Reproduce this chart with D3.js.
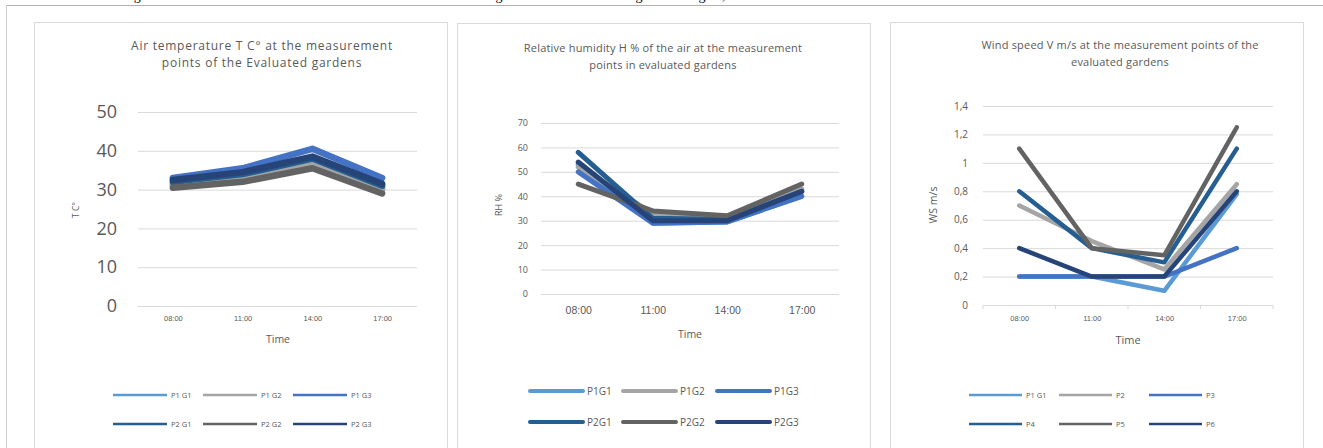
<!DOCTYPE html>
<html><head><meta charset="utf-8">
<script src="https://cdn.jsdelivr.net/npm/d3@7"></script>
<style>
html,body{margin:0;padding:0;background:#fff;}
svg{display:block;font-family:"Open Sans",Lato,sans-serif;}
</style></head>
<body>
<svg id="c" width="1323" height="448"></svg>
<script>
// ---------- DATA ----------
const times = ["08:00", "11:00", "14:00", "17:00"];

const tempSeries = ["P1 G1", "P1 G2", "P1 G3", "P2 G1", "P2 G2", "P2 G3"];
const tempP1G1 = [31.5, 33.0, 37.5, 30.5];
const tempP1G2 = [31.0, 32.5, 36.5, 30.0];
const tempP1G3 = [33.0, 35.5, 40.5, 33.0];
const tempP2G1 = [32.0, 34.0, 38.0, 31.0];
const tempP2G2 = [30.5, 32.0, 35.5, 29.0];
const tempP2G3 = [32.5, 34.5, 38.5, 31.5];
const tempTicks = [0, 10, 20, 30, 40, 50];

const rhSeries = ["P1G1", "P1G2", "P1G3", "P2G1", "P2G2", "P2G3"];
const rhP1G1 = [53, 29, 29.5, 40];
const rhP1G2 = [52, 33, 31, 43];
const rhP1G3 = [50, 29, 29.5, 40];
const rhP2G1 = [58, 31, 30.5, 42];
const rhP2G2 = [45, 34, 32, 45];
const rhP2G3 = [54, 30, 30, 42];
const rhTicks = [0, 10, 20, 30, 40, 50, 60, 70];

const wsSeries = ["P1 G1", "P2", "P3", "P4", "P5", "P6"];
const wsP1 = [0.2, 0.2, 0.1, 0.78];
const wsP2 = [0.7, 0.45, 0.25, 0.85];
const wsP3 = [0.2, 0.2, 0.2, 0.4];
const wsP4 = [0.8, 0.4, 0.3, 1.1];
const wsP5 = [1.1, 0.4, 0.35, 1.25];
const wsP6 = [0.4, 0.2, 0.2, 0.8];
const wsTicks = [0, 0.2, 0.4, 0.6, 0.8, 1, 1.2, 1.4];

const seriesColors = ["#5B9BD5", "#A5A5A5", "#4472C4", "#255E91", "#636363", "#264478"];

// ---------- DRAW ----------
const svg = d3.select("#c");
const TXT = "#595959";

// caption (cut off at top in the source) and outer frame
svg.append("text").attr("x", 122).attr("y", 0).attr("font-size", 14).attr("fill", "#000")
  .attr("font-family", "Liberation Serif, serif")
  .text("Figure 3. Microclimatic evaluation of the Evaluated Gardens through the Great Climatic Regime of August, 2019");
svg.append("line").attr("x1", 6).attr("x2", 1323).attr("y1", 5.5).attr("y2", 5.5).attr("stroke", "#b0b0b0");
svg.append("line").attr("x1", 6.5).attr("x2", 6.5).attr("y1", 5).attr("y2", 448).attr("stroke", "#d0d0d0");

const panels = [
  {
    box: [34, 22, 447], title: ["Air temperature T C\u00B0 at the measurement", "points of the Evaluated gardens"],
    titleX: 262, titleY: [50, 67], titleSize: 12, titleLS: 0.75,
    x: [138, 417], y: [306, 112], domain: [0, 50], ticks: tempTicks, fmt: d => String(d),
    yLabSize: 18, yLabX: 117, xLabSize: 7.5, xLabY: 321, xTicks: false,
    timeY: 343, timeX: 278, timeSize: 10.5,
    yTitle: "T C\u00B0", yTitleX: 77, yTitleY: 210, yTitleSize: 8.5,
    series: tempSeries, values: [tempP1G1, tempP1G2, tempP1G3, tempP2G1, tempP2G2, tempP2G3],
    lw: 6.5, legX: [113, 203, 293], legLen: 54, legY: [395, 424], legSize: 7.5, legW: 2.5, legCap: "butt"
  },
  {
    box: [457, 23, 870], title: ["Relative humidity H % of the air at the measurement", "points in evaluated gardens"],
    titleX: 663, titleY: [52, 69], titleSize: 11, titleLS: 0.2,
    x: [541, 839], y: [294, 123], domain: [0, 70], ticks: rhTicks, fmt: d => String(d),
    yLabSize: 9, yLabX: 528, xLabSize: 10.5, xLabY: 314, xTicks: false,
    timeY: 338, timeX: 690, timeSize: 10.5,
    yTitle: "RH %", yTitleX: 500, yTitleY: 205, yTitleSize: 9,
    series: rhSeries, values: [rhP1G1, rhP1G2, rhP1G3, rhP2G1, rhP2G2, rhP2G3],
    lw: 5, legX: [530, 623, 717], legLen: 53, legY: [391, 422], legSize: 10, legW: 4, legCap: "round"
  },
  {
    box: [890, 22, 1303], title: ["Wind speed V m/s at the measurement points of the", "evaluated gardens"],
    titleX: 1120, titleY: [49, 66], titleSize: 11, titleLS: 0.2,
    x: [983, 1273], y: [305, 106], domain: [0, 1.4], ticks: wsTicks, fmt: d => String(+d.toFixed(1)).replace(".", ","),
    yLabSize: 10, yLabX: 968, xLabSize: 7.5, xLabY: 321, xTicks: true,
    timeY: 344, timeX: 1128, timeSize: 11,
    yTitle: "WS m/s", yTitleX: 934, yTitleY: 205, yTitleSize: 10.5,
    series: wsSeries, values: [wsP1, wsP2, wsP3, wsP4, wsP5, wsP6],
    lw: 4.5, legX: [969, 1059, 1149], legLen: 53, legY: [395, 424], legSize: 7.5, legW: 2.5, legCap: "butt"
  }
];

panels.forEach(p => {
  const g = svg.append("g");
  // panel border
  g.append("rect").attr("x", p.box[0] + 0.5).attr("y", p.box[1] + 0.5)
    .attr("width", p.box[2] - p.box[0]).attr("height", 448)
    .attr("fill", "#fff").attr("stroke", "#d9d9d9");

  // title
  p.title.forEach((t, i) => {
    g.append("text").attr("x", p.titleX).attr("y", p.titleY[i]).attr("text-anchor", "middle")
      .attr("font-size", p.titleSize).attr("letter-spacing", p.titleLS).attr("fill", TXT).text(t);
  });

  const x = d3.scalePoint().domain(times).range(p.x).padding(0.5);
  const y = d3.scaleLinear().domain(p.domain).range(p.y);

  // gridlines
  const yAxis = d3.axisLeft(y).tickValues(p.ticks).tickSize(-(p.x[1] - p.x[0])).tickFormat(p.fmt).tickPadding(p.x[0] - p.yLabX);
  const ya = g.append("g").attr("transform", `translate(${p.x[0]},0)`).call(yAxis);
  ya.select(".domain").remove();
  ya.selectAll(".tick line").attr("stroke", "#d9d9d9");
  ya.selectAll(".tick text").attr("fill", TXT).attr("font-size", p.yLabSize).attr("font-family", "Open Sans, sans-serif");

  // x axis
  const xAxis = d3.axisBottom(x).tickSize(0);
  const xa = g.append("g").attr("transform", `translate(0,${p.y[0]})`).call(xAxis);
  xa.select(".domain").remove();
  xa.selectAll(".tick text").attr("fill", TXT).attr("font-size", p.xLabSize).attr("dy", 0)
    .attr("y", p.xLabY - p.y[0]);
  if (p.xTicks) {
    const step = x.step();
    const bounds = times.map(t => x(t) - step / 2).concat([x(times[times.length - 1]) + step / 2]);
    g.selectAll(".xt").data(bounds).join("line")
      .attr("x1", d => d).attr("x2", d => d).attr("y1", p.y[0]).attr("y2", p.y[0] + 4)
      .attr("stroke", "#d9d9d9");
  }

  // axis titles
  g.append("text").attr("x", p.timeX).attr("y", p.timeY).attr("text-anchor", "middle")
    .attr("font-size", p.timeSize).attr("fill", TXT).text("Time");
  g.append("text").attr("transform", `translate(${p.yTitleX},${p.yTitleY}) rotate(-90)`)
    .attr("text-anchor", "middle").attr("dominant-baseline", "middle")
    .attr("font-size", p.yTitleSize).attr("fill", TXT).text(p.yTitle);

  // lines
  const line = d3.line().x((d, i) => x(times[i])).y(d => y(d));
  p.values.forEach((vals, si) => {
    g.append("path").datum(vals).attr("d", line).attr("fill", "none")
      .attr("stroke", seriesColors[si]).attr("stroke-width", p.lw)
      .attr("stroke-linejoin", "round").attr("stroke-linecap", "round");
  });

  // legend
  p.series.forEach((name, si) => {
    const col = si % 3, row = Math.floor(si / 3);
    const lx = p.legX[col], ly = p.legY[row];
    g.append("line").attr("x1", lx).attr("x2", lx + p.legLen).attr("y1", ly).attr("y2", ly)
      .attr("stroke", seriesColors[si]).attr("stroke-width", p.legW).attr("stroke-linecap", p.legCap);
    g.append("text").attr("x", lx + p.legLen + 4).attr("y", ly).attr("dominant-baseline", "central")
      .attr("font-size", p.legSize).attr("fill", TXT).text(name);
  });
});
</script>
</body></html>
